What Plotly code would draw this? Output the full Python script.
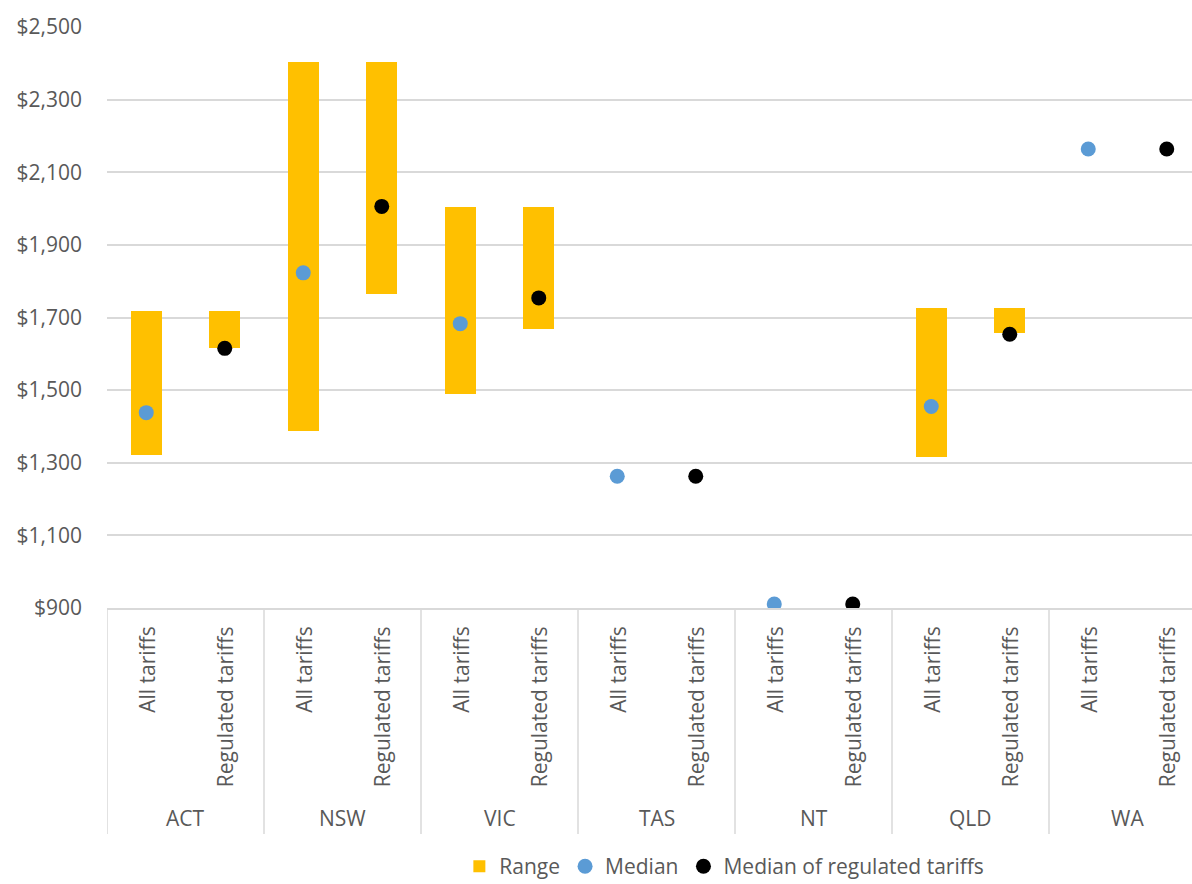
import plotly.graph_objects as go

# Annual bill ranges by jurisdiction: all tariffs vs regulated tariffs
regions = ["ACT", "NSW", "VIC", "TAS", "NT", "QLD", "WA"]
tariff_types = ["All tariffs", "Regulated tariffs"]

range_low = [1321, 1615, 1387, 1766, 1489, 1667, None, None, None, None, 1315, 1656, None, None]
range_high = [1717, 1717, 2403, 2403, 2005, 2005, None, None, None, None, 1727, 1727, None, None]
median_all = [1438, 1823, 1683, 1263, 911, 1455, 2164]
median_regulated = [1615, 2006, 1754, 1263, 911, 1654, 2164]

y_ticks = [900, 1100, 1300, 1500, 1700, 1900, 2100, 2300, 2500]

GREY_TEXT = "#595959"
GRID = "#D9D9D9"
FONT = "Open Sans"

n_types = len(tariff_types)
positions = list(range(len(regions) * n_types))
all_pos = positions[0::n_types]
reg_pos = positions[1::n_types]

bar_x, bar_len, bar_base = [], [], []
for p, lo, hi in zip(positions, range_low, range_high):
    if lo is not None and hi is not None:
        bar_x.append(p)
        bar_base.append(lo)
        bar_len.append(hi - lo)

fig = go.Figure()
fig.add_trace(go.Bar(
    x=bar_x, y=bar_len, base=bar_base, width=0.4,
    marker=dict(color="#FFC000", line=dict(width=0)),
    name="Range",
))
fig.add_trace(go.Scatter(
    x=all_pos, y=median_all, mode="markers",
    marker=dict(color="#5B9BD5", size=15, line=dict(width=0)),
    name="Median",
))
fig.add_trace(go.Scatter(
    x=reg_pos, y=median_regulated, mode="markers",
    marker=dict(color="#000000", size=15, line=dict(width=0)),
    name="Median of regulated tariffs",
))

# Inner category labels (rotated) and outer region labels
annotations = []
for i, p in enumerate(positions):
    annotations.append(dict(
        x=p, y=0, xref="x", yref="paper", yshift=-16,
        text=tariff_types[i % n_types], textangle=-90,
        xanchor="center", yanchor="top", showarrow=False,
        font=dict(family=FONT, size=21, color=GREY_TEXT),
    ))
for g, name in enumerate(regions):
    annotations.append(dict(
        x=g * n_types + (n_types - 1) / 2, y=-0.362, xref="x", yref="paper",
        text=name, xanchor="center", yanchor="middle", showarrow=False,
        font=dict(family=FONT, size=21, color=GREY_TEXT),
    ))

# Group dividers below the plot area
shapes = []
for g in range(len(regions) + 1):
    xb = g * n_types - 0.5
    shapes.append(dict(
        type="line", xref="x", yref="paper", x0=xb, x1=xb, y0=0, y1=-0.389,
        line=dict(color=GRID, width=1.5), layer="above",
    ))

fig.update_layout(
    width=1192, height=884,
    margin=dict(l=107, r=0, t=27, b=276, autoexpand=False),
    paper_bgcolor="white", plot_bgcolor="white",
    font=dict(family=FONT, size=21, color=GREY_TEXT),
    showlegend=True,
    legend=dict(
        orientation="h", x=0.569, xanchor="center", y=-0.445, yanchor="middle",
        font=dict(family=FONT, size=21, color=GREY_TEXT),
        itemwidth=30, traceorder="normal",
    ),
    annotations=annotations,
    shapes=shapes,
    bargap=0,
)
fig.update_xaxes(
    range=[-0.5, -0.5 + 1085 / 78.5],
    showticklabels=False, showgrid=False, zeroline=False,
    showline=True, linecolor=GRID, linewidth=1.5,
    fixedrange=True,
)
fig.update_yaxes(
    range=[900, 2500], tickvals=y_ticks,
    ticktext=[f"${v:,}" for v in y_ticks],
    showgrid=True, gridcolor=GRID, gridwidth=1.5,
    zeroline=False, showline=False, ticks="",
    ticklabelstandoff=24,
    tickfont=dict(family=FONT, size=21, color=GREY_TEXT),
    fixedrange=True,
)

fig.write_html("out.html")
